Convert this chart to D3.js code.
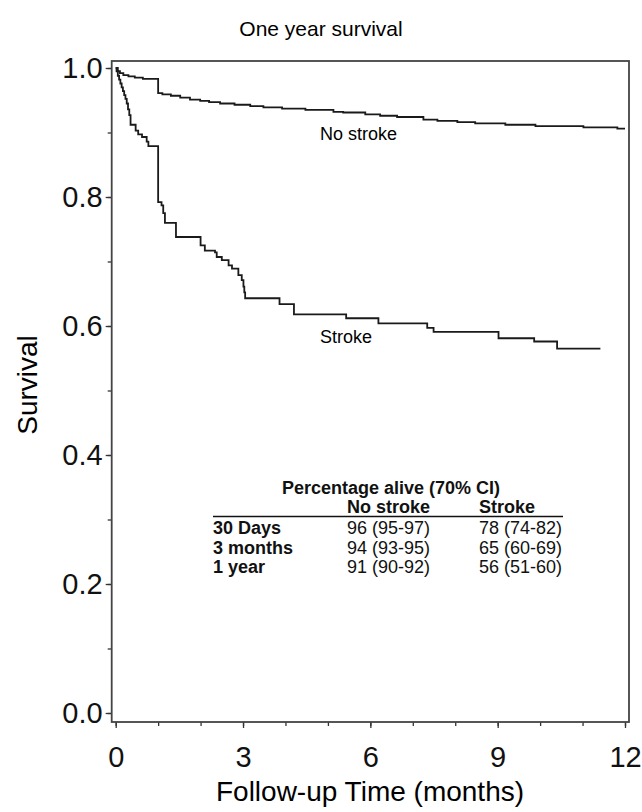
<!DOCTYPE html>
<html>
<head>
<meta charset="utf-8">
<script src="https://cdn.jsdelivr.net/npm/d3@7"></script>
<style>
  body { margin: 0; background: #fff; }
  svg { font-family: "Liberation Sans", Arial, sans-serif; }
</style>
</head>
<body>
<svg id="chart" width="642" height="812"></svg>
<script>
// Kaplan-Meier steps (months, survival)
const noStrokeTime = [0, 0.05, 0.1, 0.18, 0.3, 0.45, 0.64, 1.0, 1.1, 1.3, 1.52, 1.75, 1.99, 2.2, 2.46, 2.8, 3.17, 3.48, 3.92, 4.47, 5.13, 5.36, 5.88, 6.23, 6.63, 7.25, 7.58, 8.05, 8.47, 9.18, 9.89, 11.02, 11.82, 12.0];
const noStrokeSurv = [1.0, 0.995, 0.992, 0.989, 0.987, 0.985, 0.983, 0.961, 0.959, 0.957, 0.954, 0.951, 0.949, 0.947, 0.945, 0.943, 0.941, 0.939, 0.937, 0.935, 0.932, 0.931, 0.928, 0.926, 0.924, 0.920, 0.918, 0.916, 0.914, 0.912, 0.910, 0.908, 0.906, 0.906];

const strokeTime = [0, 0.02, 0.05, 0.08, 0.11, 0.14, 0.17, 0.2, 0.23, 0.26, 0.29, 0.32, 0.35, 0.47, 0.53, 0.62, 0.73, 0.77, 1.0, 1.08, 1.12, 1.16, 1.42, 2.0, 2.1, 2.34, 2.38, 2.5, 2.66, 2.74, 2.89, 2.97, 3.01, 3.03, 3.05, 3.86, 4.2, 5.43, 6.19, 7.34, 7.49, 9.02, 9.86, 10.4, 11.42];
const strokeSurv = [1.0, 0.995, 0.988, 0.982, 0.976, 0.970, 0.964, 0.958, 0.952, 0.945, 0.936, 0.927, 0.912, 0.903, 0.897, 0.893, 0.886, 0.879, 0.792, 0.787, 0.775, 0.760, 0.738, 0.725, 0.717, 0.714, 0.707, 0.702, 0.694, 0.689, 0.679, 0.671, 0.661, 0.652, 0.643, 0.634, 0.618, 0.612, 0.604, 0.597, 0.591, 0.581, 0.576, 0.565, 0.565];

const xTicks = [0, 3, 6, 9, 12];
const xMinor = [0, 1, 2, 3, 4, 5, 6, 7, 8, 9, 10, 11, 12];
const yTicks = [0, 0.2, 0.4, 0.6, 0.8, 1.0];
const yMinor = [0, 0.1, 0.2, 0.3, 0.4, 0.5, 0.6, 0.7, 0.8, 0.9, 1.0];

const tableTitle = "Percentage alive (70% CI)";
const tableCols = ["No stroke", "Stroke"];
const tableRows = ["30 Days", "3 months", "1 year"];
const tableNoStroke = ["96 (95-97)", "94 (93-95)", "91 (90-92)"];
const tableStroke = ["78 (74-82)", "65 (60-69)", "56 (51-60)"];

const svg = d3.select("#chart");
const box = { left: 111.7, right: 629, top: 61, bottom: 722 };

const x = d3.scaleLinear().domain([0, 12]).range([115.7, 625]);
const y = d3.scaleLinear().domain([0, 1]).range([713, 68]);

svg.append("text")
    .attr("x", 321)
    .attr("y", 36)
    .attr("text-anchor", "middle")
    .attr("font-size", 21)
    .text("One year survival");

// minor ticks first, then major ones with labels
svg.append("g")
    .attr("transform", "translate(" + box.left + ",0)")
    .call(d3.axisLeft(y).tickValues(yMinor).tickSize(4).tickFormat(""))
    .call(g => g.select(".domain").remove());

svg.append("g")
    .attr("transform", "translate(0," + box.bottom + ")")
    .call(d3.axisBottom(x).tickValues(xMinor).tickSize(4).tickFormat(""))
    .call(g => g.select(".domain").remove());

const yAxis = svg.append("g")
    .attr("transform", "translate(" + box.left + ",0)")
    .call(d3.axisLeft(y).tickValues(yTicks).tickSize(6).tickPadding(3).tickFormat(d3.format(".1f")));
yAxis.select(".domain").remove();

const xAxis = svg.append("g")
    .attr("transform", "translate(0," + box.bottom + ")")
    .call(d3.axisBottom(x).tickValues(xTicks).tickSize(6).tickPadding(18));
xAxis.select(".domain").remove();

svg.selectAll(".tick line").attr("stroke", "#333").attr("stroke-width", 1.3);
svg.selectAll(".tick text")
    .attr("font-family", "Liberation Sans, Arial, sans-serif")
    .attr("font-size", 29)
    .attr("fill", "#111");

svg.append("rect")
    .attr("x", box.left)
    .attr("y", box.top)
    .attr("width", box.right - box.left)
    .attr("height", box.bottom - box.top)
    .attr("fill", "none")
    .attr("stroke", "#444")
    .attr("stroke-width", 1.8);

svg.append("text")
    .attr("transform", "translate(37,385) rotate(-90)")
    .attr("text-anchor", "middle")
    .attr("font-size", 28)
    .text("Survival");

svg.append("text")
    .attr("x", 370)
    .attr("y", 801)
    .attr("text-anchor", "middle")
    .attr("font-size", 28)
    .text("Follow-up Time (months)");

const line = d3.line()
    .x(function (d) { return x(d[0]); })
    .y(function (d) { return y(d[1]); })
    .curve(d3.curveStepAfter);

const series = [
    d3.zip(noStrokeTime, noStrokeSurv),
    d3.zip(strokeTime, strokeSurv)
];

svg.selectAll(".km")
    .data(series)
    .enter().append("path")
    .attr("class", "km")
    .attr("d", line)
    .attr("fill", "none")
    .attr("stroke", "#1a1a1a")
    .attr("stroke-width", 1.8);

svg.append("text")
    .attr("x", 320)
    .attr("y", 140)
    .attr("font-size", 18)
    .text("No stroke");

svg.append("text")
    .attr("x", 320)
    .attr("y", 343)
    .attr("font-size", 18)
    .text("Stroke");

// summary table
const table = svg.append("g").attr("font-size", 18).attr("fill", "#111");
const col = [213, 347, 479];
const rowY = [534, 553.5, 573];

table.append("text")
    .attr("x", 391)
    .attr("y", 494)
    .attr("text-anchor", "middle")
    .attr("font-weight", "bold")
    .text(tableTitle);

table.selectAll(".colhead")
    .data(tableCols)
    .enter().append("text")
    .attr("x", (d, i) => col[i + 1])
    .attr("y", 512.5)
    .attr("font-weight", "bold")
    .text(d => d);

table.append("line")
    .attr("x1", 213).attr("x2", 563)
    .attr("y1", 516.5).attr("y2", 516.5)
    .attr("stroke", "#111")
    .attr("stroke-width", 1.5);

tableRows.forEach(function (r, i) {
    table.append("text").attr("x", col[0]).attr("y", rowY[i]).attr("font-weight", "bold").text(r);
    table.append("text").attr("x", col[1]).attr("y", rowY[i]).text(tableNoStroke[i]);
    table.append("text").attr("x", col[2]).attr("y", rowY[i]).text(tableStroke[i]);
});
</script>
</body>
</html>
